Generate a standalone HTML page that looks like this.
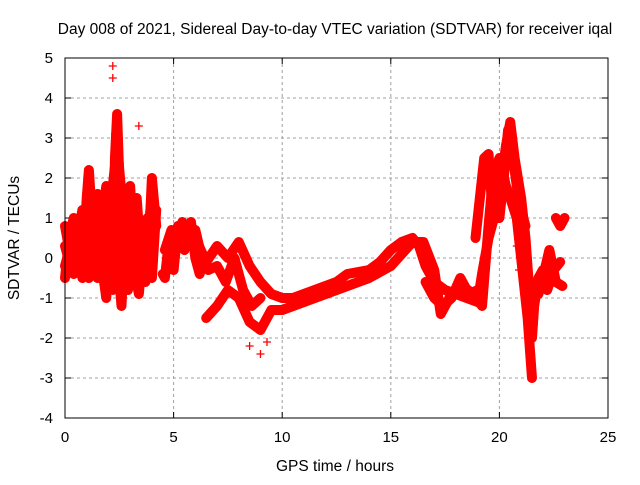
<!DOCTYPE html>
<html><head><meta charset="utf-8"><style>
body{margin:0;background:#fff;}
svg text{font-family:"Liberation Sans",sans-serif;fill:#000;}
</style></head><body>
<svg id="c" width="640" height="480">
<text x="335" y="34" font-size="15.5" text-anchor="middle">Day 008 of 2021, Sidereal Day-to-day VTEC variation (SDTVAR) for receiver iqal</text>
<text x="335" y="471" font-size="15.5" text-anchor="middle">GPS time / hours</text>
<text transform="translate(19,238) rotate(-90)" font-size="15.5" text-anchor="middle">SDTVAR / TECUs</text>
<g id="grid"></g><g id="ticks"></g><g id="marks"></g>
<rect x="65" y="58" width="543" height="360" fill="none" stroke="#000" stroke-width="1"/>
</svg>
<script>
const xTicks=[0,5,10,15,20,25];
const yTicks=[-4,-3,-2,-1,0,1,2,3,4,5];
const trackA_t=[5.0,5.5,6.0,6.5,7.0,7.5,8.0,8.5,9.0,9.5,10,10.5,11,11.5,12,12.5,13,13.5,14,14.5,15,15.5,16,16.3,16.6,17,17.5,18,18.5,19,19.2,19.5,20,20.3,20.5,20.7,21,21.2,21.4,21.5,21.6,21.8,22,22.2,22.5,22.8];
const trackA_v=[0.3,0.6,0.5,-0.1,0.3,0,0.4,-0.2,-0.6,-0.9,-1.0,-1.0,-0.9,-0.8,-0.7,-0.6,-0.4,-0.35,-0.3,-0.1,0.2,0.4,0.5,0.3,-0.2,-0.6,-0.8,-0.9,-1.0,-1.1,-0.4,0.5,1.5,2.8,3.4,2.5,1.5,0.5,-1.0,-2.0,-1.2,-0.5,-0.3,-0.8,-0.3,-0.1];
const trackB_t=[6.5,7.0,7.5,8,8.5,9,9.5,10,10.5,11,12,13,14,15,15.5,16,16.5,17,17.3,17.7,18.3,18.8,19.2,19.5,19.7,20,20.3,20.5,20.8,21,21.3,21.5];
const trackB_v=[-1.5,-1.2,-0.8,-1.0,-1.6,-1.8,-1.3,-1.3,-1.2,-1.1,-0.9,-0.7,-0.5,-0.2,0.1,0.4,0.4,-0.3,-1.4,-1.0,-0.7,-0.9,-1.2,0.8,2.0,2.5,1.8,1.5,1.0,0,-1.5,-3.0];
const trackC_t=[18.9,19.1,19.3,19.5,19.7,20.0,20.2,20.4,20.6,20.8,21.0,21.2];
const trackC_v=[0.5,1.5,2.5,2.6,1.0,1.0,2.0,3.2,2.6,1.8,1.2,0.8];
const trackD_t=[0,0.2,0.4,0.6,0.8,1.0,1.1,1.3,1.5,1.7,1.9,2.1,2.2,2.3,2.4,2.5,2.7,2.9,3.1,3.3,3.5,3.7,3.9,4.0,4.2];
const trackD_v=[-0.5,0.5,1.0,0.2,-0.5,1.5,2.2,0.5,-0.5,0.8,1.8,0.5,-0.8,2.5,3.6,2.0,0.0,-0.8,0.5,1.5,0.0,-0.6,0.8,2.0,0.8];
const trackE_t=[0,0.3,0.5,0.7,0.9,1.1,1.3,1.5,1.7,1.9,2.1,2.3,2.5,2.6,2.8,3.0,3.2,3.4,3.6,3.8,4.0,4.2];
const trackE_v=[0.3,-0.3,0.5,1.0,0,-0.5,1.2,1.6,-0.2,-1.0,1.5,1.5,-0.5,-1.2,1.0,1.8,-0.3,-0.9,0.3,1.0,-0.5,1.2];
const trackI_t=[0,0.2,0.4,0.6,0.8,1.0,1.2,1.4,1.6,1.8,2.0,2.2,2.4,2.6,2.8,3.0,3.2,3.4,3.6,3.8,4.0];
const trackI_v=[0.8,0.2,-0.4,0.6,1.2,0.4,-0.3,0.8,1.0,0.2,1.2,1.8,2.8,1.6,1.5,0.2,-0.6,0.0,0.8,0.4,1.6];
const trackJ_t=[0,0.3,0.6,0.9,1.2,1.5,1.8,2.1,2.4,2.7,3.0,3.3,3.6,3.9];
const trackJ_v=[-0.2,0.4,-0.2,0.6,0.0,0.3,-0.6,0.8,1.2,-0.2,-0.5,0.6,-0.2,0.3];
const trackF_t=[4.5,4.6,4.8,5.0,5.2,5.5,5.8,6.0,6.2,6.4];
const trackF_v=[-0.4,-0.5,0.5,-0.3,0.8,0.2,0.9,0.0,-0.4,0.0];
const trackK_t=[4.6,4.9,5.1,5.4,5.7,6.0,6.3,6.6,7.0,7.4,7.8,8.2,8.6,9.0];
const trackK_v=[0.2,0.7,0.2,0.9,0.6,0.7,0.0,-0.3,-0.2,-0.6,0.0,-0.8,-1.2,-1.0];
const trackG_t=[22.6,22.8,23.0];
const trackG_v=[1.0,0.8,1.0];
const trackH_t=[21.8,22.0,22.3,22.6,22.9];
const trackH_v=[-0.9,-0.5,0.2,-0.6,-0.7];
const trackL_t=[16.6,17.0,17.4,17.8,18.2,18.6,19.0];
const trackL_v=[-0.6,-1.0,-1.2,-1.0,-0.5,-0.9,-0.8];
const outlier_t=[2.2,2.2,2.3,3.4,8.5,9.0,9.3,20.9,20.8];
const outlier_v=[4.8,4.5,3.1,3.3,-2.2,-2.4,-2.1,-0.3,0.3];
const tracks=[[trackA_t,trackA_v],[trackB_t,trackB_v],[trackC_t,trackC_v],[trackD_t,trackD_v],[trackE_t,trackE_v],[trackI_t,trackI_v],[trackJ_t,trackJ_v],[trackF_t,trackF_v],[trackK_t,trackK_v],[trackG_t,trackG_v],[trackH_t,trackH_v],[trackL_t,trackL_v]];
const X=t=>65+t*543/25, Y=v=>418-(v+4)*40;
const NS="http://www.w3.org/2000/svg";
const grid=document.getElementById('grid'),ticks=document.getElementById('ticks'),marks=document.getElementById('marks');
function mk(tag,at,p){const e=document.createElementNS(NS,tag);for(const k in at)e.setAttribute(k,at[k]);p.appendChild(e);return e;}
xTicks.forEach(t=>{
  if(t>0&&t<25){const g=mk('line',{x1:X(t),x2:X(t),y1:58,y2:418,stroke:'#a0a0a0','stroke-dasharray':'3,3'},grid);
  
  }
  const l=mk('text',{x:X(t),y:442,'font-size':15,'text-anchor':'middle'},ticks);l.textContent=t;
  
  
  mk('line',{x1:X(t),x2:X(t),y1:418,y2:412,stroke:'#000'},ticks);
  mk('line',{x1:X(t),x2:X(t),y1:58,y2:64,stroke:'#000'},ticks);
});
yTicks.forEach(v=>{
  if(v>-4&&v<5){const g=mk('line',{x1:65,x2:608,y1:Y(v),y2:Y(v),stroke:'#a0a0a0','stroke-dasharray':'3,3'},grid);
  
  }
  const l=mk('text',{x:53,y:Y(v)+5,'font-size':15,'text-anchor':'end'},ticks);l.textContent=v;
  
  
  mk('line',{x1:65,x2:71,y1:Y(v),y2:Y(v),stroke:'#000'},ticks);
  mk('line',{x1:608,x2:602,y1:Y(v),y2:Y(v),stroke:'#000'},ticks);
});
function plus(t,v){const x=X(t),y=Y(v);
  const p=mk('path',{d:`M${x-4},${y}H${x+4}M${x},${y-4}V${y+4}`,stroke:'#f00','stroke-width':1.3},marks);
  
  }
tracks.forEach(([ts,vs])=>{
  const pl=mk('polyline',{points:ts.map((t,i)=>X(t)+','+Y(vs[i])).join(' '),fill:'none',stroke:'#f00','stroke-width':10,'stroke-linejoin':'round','stroke-linecap':'round'},marks);
  
  
  ts.forEach((t,i)=>plus(t,vs[i]));
});
outlier_t.forEach((t,i)=>plus(t,outlier_v[i]));
</script>
</body></html>
